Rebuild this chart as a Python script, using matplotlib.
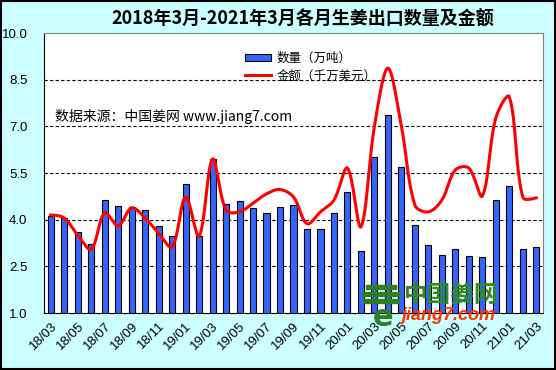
import numpy as np
import matplotlib.pyplot as plt
from matplotlib.patches import Rectangle

plt.rcParams['font.family'] = ['Noto Sans CJK SC', 'DejaVu Sans']

# months 2018/03 .. 2021/03
months = []
for yr in (18, 19, 20, 21):
    for m in range(1, 13):
        if (yr == 18 and m < 3) or (yr == 21 and m > 3):
            continue
        months.append(f"{yr:02d}/{m:02d}")

# export quantity (10k tons)
qty = [4.13, 4.05, 3.6, 3.22, 4.62, 4.43, 4.4, 4.3, 3.8, 3.47,
       5.15, 3.47, 5.95, 4.5, 4.6, 4.37, 4.2, 4.4, 4.47, 3.7,
       3.7, 4.2, 4.9, 3.0, 6.0, 7.37, 5.7, 3.83, 3.18, 2.86,
       3.05, 2.83, 2.8, 4.63, 5.08, 3.05, 3.12]

# export value (10 million USD)
amount = [4.15, 4.05, 3.5, 3.05, 4.22, 3.8, 4.38, 4.05, 3.56, 3.12,
          4.73, 3.47, 5.95, 4.3, 4.25, 4.53, 4.83, 4.97, 4.73, 3.87,
          4.25, 4.63, 5.66, 3.77, 7.0, 8.87, 7.0, 4.47, 4.25, 4.63,
          5.6, 5.66, 4.76, 7.27, 7.95, 4.73, 4.7]

yticks = [1.0, 2.5, 4.0, 5.5, 7.0, 8.5, 10.0]


def smooth_line(x, y, sx=13.5, sy=31.1, n=30):
    # spreadsheet-style bezier smoothing, done in pixel-like space
    pts = np.column_stack([np.asarray(x) * sx, np.asarray(y) * sy]).astype(float)
    m = len(pts)
    cin = pts.copy()
    cout = pts.copy()
    for i in range(1, m - 1):
        d = pts[i + 1] - pts[i - 1]
        l1 = np.hypot(*(pts[i] - pts[i - 1]))
        l2 = np.hypot(*(pts[i + 1] - pts[i]))
        tot = l1 + l2
        cin[i] = pts[i] - d * (l1 / tot) / 3
        cout[i] = pts[i] + d * (l2 / tot) / 3
    cout[0] = pts[0] + (cin[1] - pts[0]) / 2
    cin[-1] = pts[-1] + (cout[-2] - pts[-1]) / 2
    t = np.linspace(0, 1, n, endpoint=False)[:, None]
    segs = []
    for i in range(m - 1):
        p0, p1, p2, p3 = pts[i], cout[i], cin[i + 1], pts[i + 1]
        segs.append((1 - t) ** 3 * p0 + 3 * (1 - t) ** 2 * t * p1
                    + 3 * (1 - t) * t ** 2 * p2 + t ** 3 * p3)
    segs.append(pts[-1:])
    out = np.vstack(segs)
    return out[:, 0] / sx, out[:, 1] / sy


fig = plt.figure(figsize=(5.56, 3.70), dpi=100, facecolor='#CCFFFF')
ax = fig.add_axes([44 / 556, 1 - 313 / 370, 499 / 556, 280 / 370])
ax.set_facecolor('white')

x = np.arange(len(months))
bars = ax.bar(x, qty, width=0.45, bottom=0, color='#3366FF', edgecolor='black',
              linewidth=0.8, label='数量（万吨）', zorder=2)
lx, ly = smooth_line(x, amount)
line, = ax.plot(lx, ly, color='red', lw=2.2, label='金额（千万美元）', zorder=3)

ax.set_xlim(-0.5, len(months) - 0.5)
ax.set_ylim(1.0, 10.0)
ax.set_yticks(yticks)
ax.set_yticklabels([f"{v:.1f}" for v in yticks], family='Liberation Sans', fontsize=9.5)
for v in yticks[1:-1]:
    ax.axhline(v, color='black', lw=0.8, ls=(0, (3, 2)), zorder=1)

ax.set_xticks(x[::2])
ax.set_xticklabels(months[::2], rotation=45, ha='right', va='top',
                   rotation_mode='anchor', family='Liberation Sans', fontsize=9.5)
ax.tick_params(axis='both', length=0)
ax.tick_params(axis='y', pad=12)
ax.tick_params(axis='x', pad=5)

for s in ('top', 'right'):
    ax.spines[s].set_color('#808080')
for s in ('left', 'bottom'):
    ax.spines[s].set_color('black')

fig.text(303 / 556, 1 - 19 / 370, '2018年3月-2021年3月各月生姜出口数量及金额',
         ha='center', va='center', fontsize=13, fontweight='bold')

ax.legend([bars, line], ['数量（万吨）', '金额（千万美元）'],
          loc='upper left', bbox_to_anchor=(240 / 556, 1 - 47 / 370),
          bbox_transform=fig.transFigure, frameon=False, fontsize=9,
          handlelength=2.1, handleheight=0.5, labelspacing=0.35,
          borderaxespad=0, handletextpad=0.4)

fig.text(55 / 556, 1 - 116 / 370, '数据来源：中国姜网 www.jiang7.com',
         ha='left', va='center', fontsize=10)

# logo: stylised icon (three green bars + "e") and site name
for yb, xl, w in ((286, 366, 30), (293, 362, 38), (300, 364, 34)):
    fig.patches.append(Rectangle((xl / 556, 1 - (yb + 3) / 370), w / 556, 4 / 370,
                                 transform=fig.transFigure, color='#2E7D1E', zorder=5))
fig.text(383 / 556, 1 - 318 / 370, 'e', ha='center', va='center', fontsize=22,
         fontweight='bold', color='#2E7D1E', family='DejaVu Sans')
fig.text(404 / 556, 1 - 295 / 370, '中国姜网', ha='left', va='center', fontsize=17,
         fontweight='bold', color='#2E8B22')
fig.text(402 / 556, 1 - 316 / 370, 'jiang7.com', ha='left', va='center', fontsize=13,
         fontweight='bold', fontstyle='italic', color='#FF3300', family='Liberation Sans')

fig.patches.append(Rectangle((0.001, 0.002), 0.997, 0.996, transform=fig.transFigure,
                             fill=False, edgecolor='black', lw=1.5))

fig.savefig('out.png', dpi=100, facecolor=fig.get_facecolor())
